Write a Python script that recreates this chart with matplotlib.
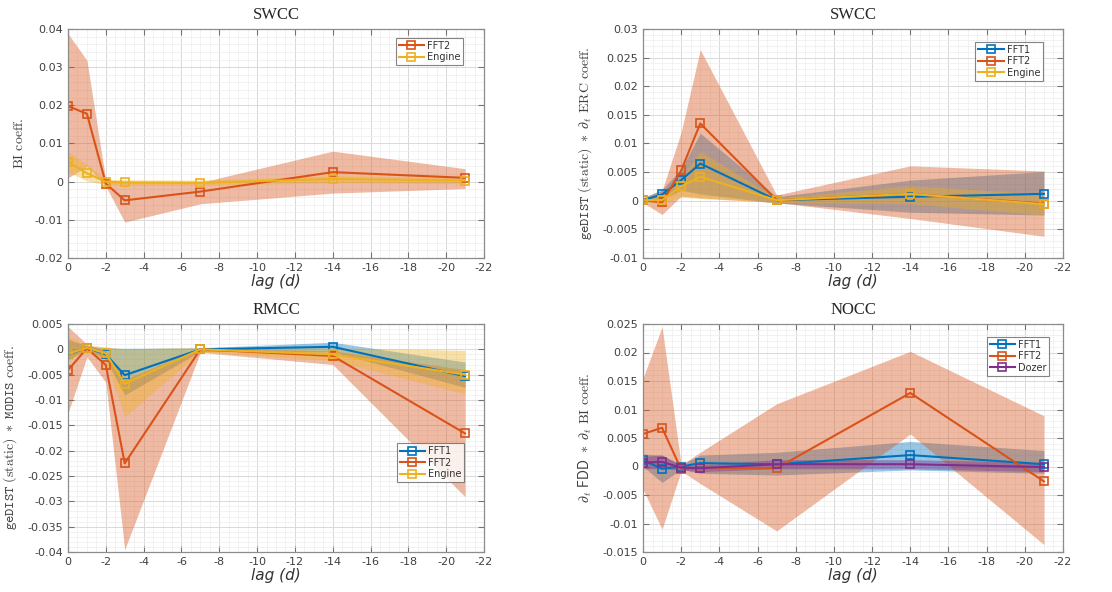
import matplotlib
matplotlib.use("Agg")
import matplotlib.pyplot as plt
from matplotlib.ticker import MultipleLocator, FormatStrFormatter, AutoMinorLocator

plt.rcParams["axes.unicode_minus"] = False
plt.rcParams["mathtext.fontset"] = "cm"
plt.rcParams["font.family"] = ["DejaVu Sans"]

# lag axis (days)
lags = [0, -1, -2, -3, -7, -14, -21]

# SWCC, BI coefficient
swcc_bi_fft2 = [0.0198, 0.0178, -0.0005, -0.0049, -0.0026, 0.0025, 0.0010]
swcc_bi_fft2_lo = [0.0010, 0.0040, -0.0012, -0.0106, -0.0058, -0.0030, -0.0018]
swcc_bi_fft2_hi = [0.0388, 0.0318, 0.0003, 0.0000, -0.0002, 0.0080, 0.0034]
swcc_bi_engine = [0.0052, 0.0022, 0.0000, -0.0002, -0.0003, 0.0007, 0.0003]
swcc_bi_engine_lo = [0.0025, 0.0002, -0.0008, -0.0010, -0.0010, -0.0003, -0.0005]
swcc_bi_engine_hi = [0.0080, 0.0045, 0.0006, 0.0005, 0.0004, 0.0016, 0.0010]

# SWCC, geDIST * dERC coefficient
swcc_erc_fft1 = [0.0001, 0.0011, 0.0036, 0.0065, 0.0001, 0.0007, 0.0012]
swcc_erc_fft1_lo = [-0.0003, 0.0003, 0.0018, 0.0012, -0.0004, -0.0020, -0.0025]
swcc_erc_fft1_hi = [0.0005, 0.0020, 0.0055, 0.0118, 0.0007, 0.0036, 0.0051]
swcc_erc_fft2 = [0.0001, -0.0003, 0.0053, 0.0135, 0.0001, 0.0012, -0.0005]
swcc_erc_fft2_lo = [-0.0003, -0.0024, 0.0008, 0.0005, -0.0003, -0.0031, -0.0062]
swcc_erc_fft2_hi = [0.0005, 0.0018, 0.0120, 0.0264, 0.0010, 0.0061, 0.0052]
swcc_erc_engine = [0.0001, 0.0001, 0.0025, 0.0042, 0.0001, 0.0012, -0.0006]
swcc_erc_engine_lo = [-0.0003, -0.0004, 0.0006, 0.0004, -0.0003, -0.0005, -0.0025]
swcc_erc_engine_hi = [0.0005, 0.0008, 0.0040, 0.0086, 0.0005, 0.0026, 0.0012]

# RMCC, geDIST * MODIS coefficient
rmcc_fft1 = [-0.0010, 0.0003, -0.0010, -0.0051, 0.0000, 0.0005, -0.0053]
rmcc_fft1_lo = [-0.0020, 0.0000, -0.0020, -0.0090, -0.0004, -0.0005, -0.0075]
rmcc_fft1_hi = [0.0020, 0.0007, 0.0003, 0.0002, 0.0003, 0.0014, -0.0025]
rmcc_fft2 = [-0.0041, 0.0002, -0.0031, -0.0225, 0.0000, -0.0013, -0.0166]
rmcc_fft2_lo = [-0.0126, -0.0015, -0.0065, -0.0395, -0.0006, -0.0030, -0.0291]
rmcc_fft2_hi = [0.0045, 0.0010, -0.0003, -0.0060, 0.0003, -0.0003, -0.0040]
rmcc_engine = [-0.0009, 0.0003, -0.0008, -0.0068, 0.0000, -0.0010, -0.0050]
rmcc_engine_lo = [-0.0022, -0.0002, -0.0025, -0.0133, -0.0005, -0.0022, -0.0088]
rmcc_engine_hi = [0.0025, 0.0008, 0.0005, 0.0001, 0.0004, 0.0003, -0.0002]

# NOCC, dFDD * dBI coefficient
nocc_fft1 = [0.0011, -0.0004, 0.0000, 0.0006, 0.0004, 0.0020, 0.0004]
nocc_fft1_lo = [0.0000, -0.0028, -0.0005, -0.0012, -0.0015, -0.0006, -0.0012]
nocc_fft1_hi = [0.0022, 0.0020, 0.0003, 0.0020, 0.0025, 0.0044, 0.0028]
nocc_fft2 = [0.0057, 0.0068, -0.0005, -0.0002, -0.0003, 0.0129, -0.0026]
nocc_fft2_lo = [-0.0040, -0.0110, -0.0008, -0.0030, -0.0113, 0.0057, -0.0137]
nocc_fft2_hi = [0.0155, 0.0245, 0.0003, 0.0025, 0.0110, 0.0202, 0.0089]
nocc_dozer = [0.0007, 0.0008, -0.0002, -0.0003, 0.0004, 0.0004, -0.0001]
nocc_dozer_lo = [-0.0004, -0.0004, -0.0006, -0.0009, -0.0004, -0.0004, -0.0009]
nocc_dozer_hi = [0.0018, 0.0020, 0.0002, 0.0003, 0.0012, 0.0012, 0.0007]

colors = {
    "FFT1": (0.000, 0.447, 0.741),
    "FFT2": (0.850, 0.325, 0.098),
    "Engine": (0.929, 0.694, 0.125),
    "Dozer": (0.494, 0.184, 0.556),
}

W, H = 1112, 592
fig = plt.figure(figsize=(W / 100, H / 100), dpi=100)


def px_axes(left, top, right, bottom):
    return fig.add_axes([left / W, 1 - bottom / H, (right - left) / W, (bottom - top) / H])


def style(ax, title, ylabel, ylim, ystep):
    ax.set_xlim(0, -22)
    ax.set_ylim(*ylim)
    ax.xaxis.set_major_locator(MultipleLocator(2))
    ax.xaxis.set_minor_locator(AutoMinorLocator(4))
    ax.yaxis.set_major_locator(MultipleLocator(ystep))
    ax.yaxis.set_minor_locator(AutoMinorLocator(5))
    ax.xaxis.set_major_formatter(FormatStrFormatter("%g"))
    ax.yaxis.set_major_formatter(FormatStrFormatter("%g"))
    ax.grid(True, which="major", color="0.85", lw=0.7)
    ax.grid(True, which="minor", color="0.93", lw=0.5)
    ax.set_axisbelow(True)
    ax.tick_params(which="both", direction="in", top=True, right=True,
                   labelsize=8, colors="0.45", labelcolor="0.25")
    ax.tick_params(which="major", length=4)
    ax.tick_params(which="minor", length=0)
    for s in ax.spines.values():
        s.set_color("0.55")
        s.set_linewidth(0.9)
    ax.set_title(title, family="Liberation Serif", fontsize=12, pad=7, color="0.15")
    ax.set_xlabel("lag (d)", fontsize=11, style="italic", color="0.2", labelpad=1)
    ax.set_ylabel(ylabel, fontsize=10, color="0.25", labelpad=6)


def series(ax, name, mean, lo, hi):
    c = colors[name]
    ax.fill_between(lags, lo, hi, color=c, alpha=0.4, lw=0)
    ax.plot(lags, mean, color=c, lw=1.5, marker="s", ms=6, mfc="none", mew=1.2, label=name)


def legend(ax, loc, anchor):
    leg = ax.legend(loc=loc, bbox_to_anchor=anchor, fontsize=7, frameon=True,
                    fancybox=False, edgecolor="0.4", handlelength=2.6, numpoints=1,
                    borderpad=0.3, labelspacing=0.15, handletextpad=0.3)
    leg.get_frame().set_linewidth(0.8)
    for t in leg.get_texts():
        t.set_color("0.2")


# SWCC - BI
ax1 = px_axes(68, 29, 484, 258)
series(ax1, "FFT2", swcc_bi_fft2, swcc_bi_fft2_lo, swcc_bi_fft2_hi)
series(ax1, "Engine", swcc_bi_engine, swcc_bi_engine_lo, swcc_bi_engine_hi)
style(ax1, "SWCC", r"$\mathrm{BI\ coeff.}$", (-0.02, 0.04), 0.01)
legend(ax1, "upper right", (0.962, 0.982))

# SWCC - ERC
ax2 = px_axes(643, 29, 1063, 258)
series(ax2, "FFT1", swcc_erc_fft1, swcc_erc_fft1_lo, swcc_erc_fft1_hi)
series(ax2, "FFT2", swcc_erc_fft2, swcc_erc_fft2_lo, swcc_erc_fft2_hi)
series(ax2, "Engine", swcc_erc_engine, swcc_erc_engine_lo, swcc_erc_engine_hi)
style(ax2, "SWCC", r"$\mathtt{geDIST}\ \mathrm{(static)}\ *\ \partial_t\ \mathrm{ERC\ coeff.}$",
      (-0.01, 0.03), 0.005)
legend(ax2, "upper right", (0.964, 0.965))

# RMCC - MODIS
ax3 = px_axes(68, 324, 484, 552)
series(ax3, "FFT1", rmcc_fft1, rmcc_fft1_lo, rmcc_fft1_hi)
series(ax3, "FFT2", rmcc_fft2, rmcc_fft2_lo, rmcc_fft2_hi)
series(ax3, "Engine", rmcc_engine, rmcc_engine_lo, rmcc_engine_hi)
style(ax3, "RMCC", r"$\mathtt{geDIST}\ \mathrm{(static)}\ *\ \mathtt{MODIS}\ \mathrm{coeff.}$",
      (-0.04, 0.005), 0.005)
legend(ax3, "lower right", (0.964, 0.285))

# NOCC - FDD/BI
ax4 = px_axes(643, 324, 1063, 552)
series(ax4, "FFT1", nocc_fft1, nocc_fft1_lo, nocc_fft1_hi)
series(ax4, "FFT2", nocc_fft2, nocc_fft2_lo, nocc_fft2_hi)
series(ax4, "Dozer", nocc_dozer, nocc_dozer_lo, nocc_dozer_hi)
style(ax4, "NOCC", r"$\partial_t\ \mathsf{FDD}\ *\ \partial_t\ \mathrm{BI\ coeff.}$",
      (-0.015, 0.025), 0.005)
legend(ax4, "upper right", (0.979, 0.965))

fig.savefig("out.png", dpi=100)
